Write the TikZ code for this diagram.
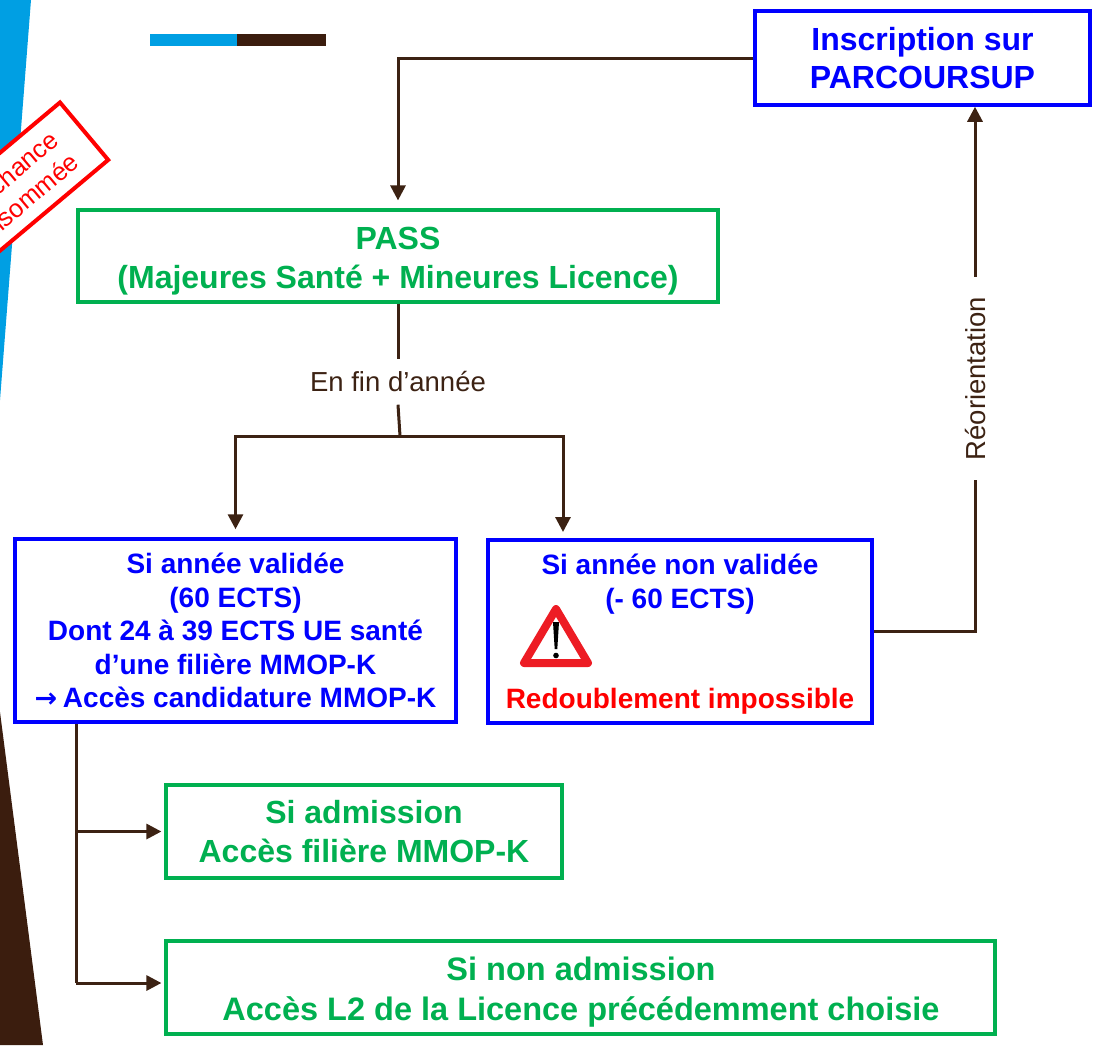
\documentclass[tikz,border=0pt]{standalone}
\usepackage{fontspec}
\setmainfont{Liberation Sans}
\newfontfamily\dvsans{DejaVu Sans}
\usetikzlibrary{arrows.meta,calc}
\definecolor{bblue}{HTML}{0000FF}
\definecolor{bgreen}{HTML}{00B050}
\definecolor{brn}{HTML}{3C2213}
\definecolor{sky}{HTML}{009FE3}
\definecolor{dbrn}{HTML}{3B1D0E}
\definecolor{wred}{HTML}{ED1C24}
\begin{document}
\begin{tikzpicture}[x=1pt,y=-1pt,
 bluebox/.style={draw=bblue,line width=3.5pt,text=bblue,font=\bfseries\fontsize{28}{33.5}\selectfont,align=center,inner sep=0pt},
 greenbox/.style={draw=bgreen,line width=3.2pt,text=bgreen,font=\bfseries\fontsize{32}{39}\selectfont,align=center,inner sep=0pt},
 greentxt/.style={text=bgreen,font=\bfseries\fontsize{32}{39.5}\selectfont,align=center,inner sep=0pt},
 bluetxt/.style={text=bblue,font=\bfseries\fontsize{28}{34}\selectfont,align=center,inner sep=0pt},
 conn/.style={draw=brn,line width=3pt,-{Triangle[length=15pt,width=15pt]}},
 link/.style={draw=brn,line width=3pt},
 lbl/.style={text=brn,font=\fontsize{27.5}{33}\selectfont,inner sep=0pt}]
\useasboundingbox (0,0) rectangle (1095,1045);
\clip (0,0) rectangle (1095,1045);
% decorations
\fill[sky] (0,0) -- (31,0) -- (0,400) -- cycle;
\fill[dbrn] (0,712) -- (43,1045) -- (0,1045) -- cycle;
\fill[sky] (150,34) rectangle (237,46);
\fill[dbrn] (237,34) rectangle (326,46);
\node[draw=red,fill=white,line width=4pt,text=red,font=\fontsize{25.5}{30}\selectfont,align=center,
      minimum width=183pt,minimum height=75pt,rotate=40,inner sep=0pt] (stamp) at (14,190) {\hspace*{-5pt}Une chance\\\hspace*{-5pt}consommée};
% boxes
\node[bluebox,font=\bfseries\fontsize{32}{38.5}\selectfont,minimum width=335pt,minimum height=94pt] (ins) at (922.5,58) {Inscription sur\\PARCOURSUP};
\node[draw=bgreen,line width=3.2pt,minimum width=640pt,minimum height=92pt] (pass) at (398,256) {};
\node[greentxt] (passt) at (398,261) {PASS\\(Majeures Santé + Mineures Licence)};
\node[bluebox,minimum width=441pt,minimum height=183pt] (val) at (235.5,630.5) {Si année validée\\(60 ECTS)\\Dont 24 à 39 ECTS UE santé\\d’une filière MMOP-K\\{\dvsans\bfseries\fontsize{27}{27}\selectfont →}\hspace{-2pt} Accès candidature MMOP-K};
\node[draw=bblue,line width=3.5pt,minimum width=384pt,minimum height=183pt] (nv) at (680,631.5) {};
\node[bluetxt] (nvt) at (680,584) {Si année non validée\\(- 60 ECTS)};
\node[bluetxt,text=red] (redo) at (680,701) {Redoublement impossible};
\node[greenbox,minimum width=396pt,minimum height=93pt] (adm) at (364,831.5) {Si admission\\Accès filière MMOP-K};
\node[draw=bgreen,line width=3.2pt,minimum width=829pt,minimum height=93pt] (nadm) at (580.5,987.5) {};
\node[greentxt,font=\bfseries\fontsize{32.5}{40}\selectfont] (nadmt) at (581,992.5) {Si non admission\\Accès L2 de la Licence précédemment choisie};
% warning sign
\draw[wred,line width=8pt,line join=round,fill=white] (556,609) -- (588,663) -- (524,663) -- cycle;
\fill[black] (553,622) -- (559,622) -- (557.3,649) -- (554.7,649) -- cycle;
\fill[black] (556,655.5) circle (2.8);
% connectors
\draw[conn,shorten >=8pt] (ins.west) -| (pass.north);
\node[lbl,minimum height=45pt] (fin) at (398,382) {En fin d’année};
\draw[link] (pass.south) -- (fin.north);
\coordinate (split) at (400,436);
\draw[link] (fin.south) -- (split);
\draw[conn,shorten >=8pt] (split) -| (val.north);
\coordinate (nvin) at (563,540);
\draw[conn,shorten >=8pt] (split) -| (nvin);
\node[lbl,rotate=90,minimum width=203pt] (reo) at (975,378.5) {Réorientation};
\draw[link] (nv.east) -| (reo.west);
\draw[conn] (reo.east) -- (reo.east |- ins.south);
\coordinate (trunk) at (76,0);
\coordinate (t2) at (76,983);
\draw[link] (trunk |- val.south) -- (t2);
\draw[conn,shorten >=3pt] (trunk |- adm.west) -- (adm.west);
\draw[conn,shorten >=3pt] (t2) -- (t2 -| nadm.west);
\end{tikzpicture}
\end{document}
